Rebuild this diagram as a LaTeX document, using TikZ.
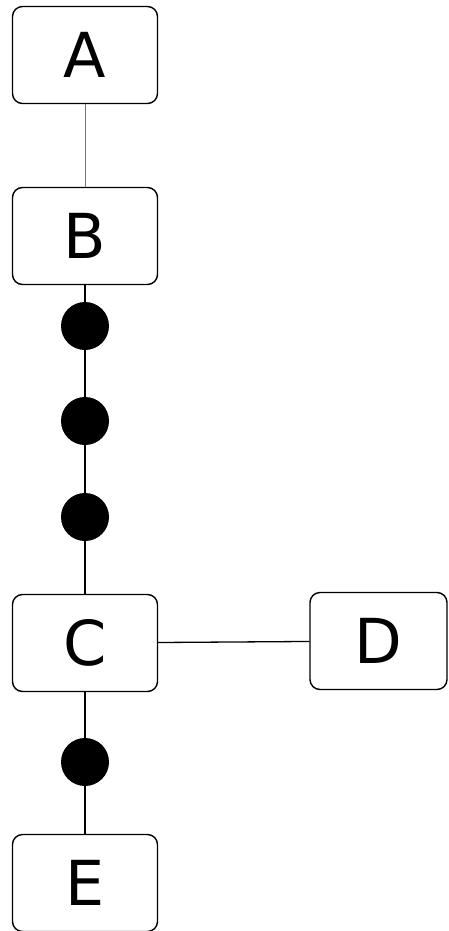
\documentclass[tikz,border=0pt]{standalone}
\usepackage{fontspec}
\setmainfont{DejaVu Sans}
\begin{document}
\begin{tikzpicture}[x=1pt,y=-1pt,
  box/.style={draw=black,line width=1.4pt,rounded corners=10pt,minimum width=145pt,minimum height=97pt,inner sep=0pt,font=\fontsize{62}{62}\selectfont},
  dot/.style={circle,fill=black,minimum size=48pt,inner sep=0pt},
  link/.style={draw=black,line width=1.3pt}]
\useasboundingbox (0,0) rectangle (448,931);
\node[box] (A) at (85,55) {A};
\node[box] (B) at (85,236) {B};
\node[dot] (d1) at (85,326) {};
\node[dot] (d2) at (85,421) {};
\node[dot] (d3) at (85,517) {};
\node[box] (C) at (85,643) {C};
\node[box,minimum width=137pt] (D) at (378.5,641) {D};
\node[dot] (d4) at (85,762) {};
\node[box] (E) at (85,883) {E};
\draw[draw=black!55,line width=1pt] (A) -- (B);
\draw[link] (B) -- (d1) -- (d2) -- (d3) -- (C);
\draw[link] (C) -- (D);
\draw[link] (C) -- (d4) -- (E);
\end{tikzpicture}
\end{document}
